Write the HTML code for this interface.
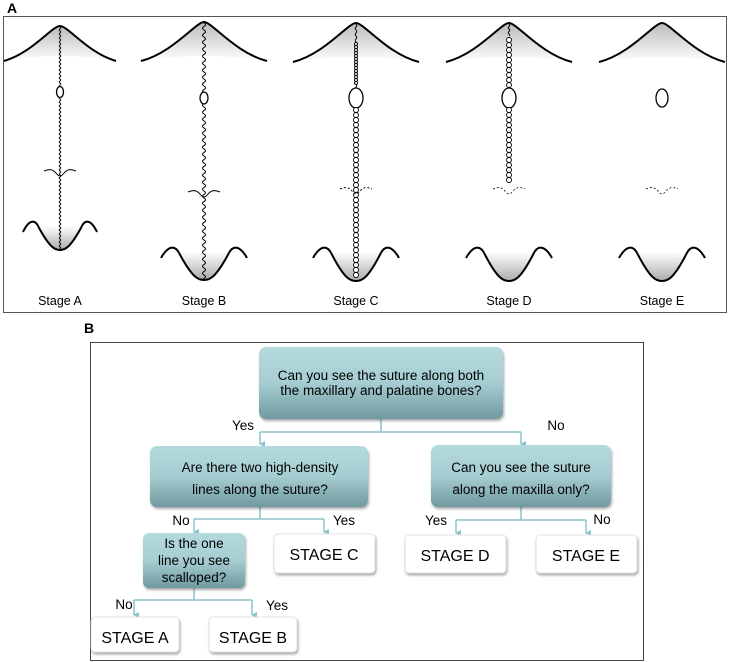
<!DOCTYPE html>
<html><head><meta charset="utf-8"><style>
body{margin:0;background:#fff;width:731px;height:662px;overflow:hidden;font-family:"Liberation Sans",sans-serif}
svg{position:absolute;left:0;top:0}
text{font-family:"Liberation Sans",sans-serif}
</style></head><body>
<svg id="s" width="731" height="662" viewBox="0 0 731 662">
<defs>
<linearGradient id="gt" x1="0" y1="0" x2="0" y2="1"><stop offset="0" stop-color="#bbb"/><stop offset="1" stop-color="#fff"/></linearGradient>
<linearGradient id="gb" x1="0" y1="1" x2="0" y2="0"><stop offset="0" stop-color="#aaa"/><stop offset="1" stop-color="#fff"/></linearGradient>
<linearGradient id="bx" x1="0" y1="0" x2="0" y2="1"><stop offset="0" stop-color="#b4dade"/><stop offset="0.5" stop-color="#a6cdd1"/><stop offset="1" stop-color="#6f9aa0"/></linearGradient>
<filter id="sh" x="-10%" y="-10%" width="120%" height="130%"><feDropShadow dx="1" dy="2" stdDeviation="1.2" flood-color="#000" flood-opacity="0.35"/></filter>
<marker id="ar" markerWidth="6" markerHeight="6" refX="3" refY="5" orient="auto-start-reverse" markerUnits="userSpaceOnUse"><path d="M0,0 L6,0 L3,6z" fill="#8cc4cc"/></marker>
</defs>
<text x="7" y="13" font-size="14" font-weight="bold">A</text>
<rect x="3.5" y="16.5" width="723" height="296" fill="none" stroke="#555" stroke-width="1"/>
<g id="A"></g>
<g font-size="12.5" text-anchor="middle" fill="#000">
<text x="60" y="305">Stage A</text><text x="204" y="305">Stage B</text><text x="356" y="305">Stage C</text><text x="509" y="305">Stage D</text><text x="662" y="305">Stage E</text>
</g>
<text x="84" y="333" font-size="14" font-weight="bold">B</text>
<rect x="90.5" y="342.5" width="553" height="318" fill="none" stroke="#444" stroke-width="1"/>
<g stroke="#8cc4cc" stroke-width="1.5" fill="none">
<path d="M381,419 V432"/><path d="M260,432 H521"/>
<path d="M260,432 V444" marker-end="url(#ar)"/><path d="M521,432 V444" marker-end="url(#ar)"/>
<path d="M260,507 V519 M194,519 H324 M521,507 V520 M456,520 H586"/>
<path d="M194,519 V532" marker-end="url(#ar)"/><path d="M324,519 V532" marker-end="url(#ar)"/>
<path d="M456,520 V533" marker-end="url(#ar)"/><path d="M586,520 V533" marker-end="url(#ar)"/>
<path d="M194,588 V600 M134,600 H252"/>
<path d="M134,600 V615" marker-end="url(#ar)"/><path d="M252,600 V615" marker-end="url(#ar)"/>
</g>
<g filter="url(#sh)">
<rect x="259" y="347" width="244" height="72" rx="7" fill="url(#bx)"/>
<rect x="150" y="446" width="218" height="61" rx="7" fill="url(#bx)"/>
<rect x="431" y="445" width="180" height="62" rx="7" fill="url(#bx)"/>
<rect x="143" y="533" width="102" height="55" rx="6" fill="url(#bx)"/>
<g fill="#fff" stroke="#ddd" stroke-width="0.8">
<rect x="274" y="534" width="101" height="39" rx="4"/>
<rect x="405" y="535" width="101" height="38" rx="4"/>
<rect x="536" y="535" width="101" height="38" rx="4"/>
<rect x="91" y="617" width="88" height="35" rx="4"/>
<rect x="209" y="617" width="88" height="35" rx="4"/>
</g>
</g>
<g font-size="13.5" text-anchor="middle" fill="#000">
<text x="381" y="380">Can you see the suture along both</text>
<text x="381" y="395">the maxillary and palatine bones?</text>
<text x="260" y="472">Are there two high-density</text>
<text x="260" y="494">lines along the suture?</text>
<text x="521" y="472">Can you see the suture</text>
<text x="521" y="494">along the maxilla only?</text>
<text x="194" y="548">Is the one</text>
<text x="194" y="565">line you see</text>
<text x="194" y="582">scalloped?</text>
<text x="243" y="430">Yes</text>
<text x="556" y="430">No</text>
<text x="181" y="525">No</text>
<text x="344" y="525">Yes</text>
<text x="436" y="525">Yes</text>
<text x="602" y="524">No</text>
<text x="124" y="609">No</text>
<text x="277" y="610">Yes</text>
</g>
<g font-size="16" text-anchor="middle" fill="#000">
<text x="324" y="560">STAGE C</text>
<text x="455" y="561">STAGE D</text>
<text x="586" y="561">STAGE E</text>
<text x="135" y="643">STAGE A</text>
<text x="253" y="643">STAGE B</text>
</g>
</svg>
<script>
var g=document.getElementById('A'),h='';
function arch(c,py,ey,w){var x0=c-w,x1=c+w;
 var d='M'+x0+','+ey+' C'+(c-w*0.5)+','+(ey-8)+' '+(c-8)+','+py+' '+c+','+py+' C'+(c+8)+','+py+' '+(c+w*0.5)+','+(ey-8)+' '+x1+','+ey;
 h+='<path d="'+d+' Q'+c+','+(ey-10)+' '+x0+','+ey+'Z" fill="url(#gt)"/>';
 h+='<path d="'+d+'" fill="none" stroke="#000" stroke-width="2"/>';}
function bwave(c,py,by,w){var x0=c-w,x1=c+w,q=w/3;
 var d='M'+x0+','+(py+10)+' C'+(x0+q*0.5)+','+(py-3)+' '+(x0+q)+','+(py-3)+' '+(x0+q*1.3)+','+(py+6)+' C'+(c-q*0.8)+','+(by-2)+' '+(c-q*0.4)+','+by+' '+c+','+by+' C'+(c+q*0.4)+','+by+' '+(c+q*0.8)+','+(by-2)+' '+(x1-q*1.3)+','+(py+6)+' C'+(x1-q)+','+(py-3)+' '+(x1-q*0.5)+','+(py-3)+' '+x1+','+(py+10);
 h+='<path d="M'+(x0+q*1.2)+','+(py+4)+' C'+(c-q*0.8)+','+(by-2)+' '+(c-q*0.4)+','+by+' '+c+','+by+' C'+(c+q*0.4)+','+by+' '+(c+q*0.8)+','+(by-2)+' '+(x1-q*1.2)+','+(py+4)+'Z" fill="url(#gb)"/>';
 h+='<path d="'+d+'" fill="none" stroke="#000" stroke-width="2"/>';}
function wavy(c,y0,y1,a,p){var d='M'+c+','+y0;for(var y=y0;y<=y1;y+=1){d+=' L'+(c+a*Math.sin((y-y0)/p*2*Math.PI)).toFixed(2)+','+y;}h+='<path d="'+d+'" fill="none" stroke="#000" stroke-width="1"/>';}
function chain(c,y0,y1,r){for(var y=y0;y<=y1;y+=r*2){h+='<circle cx="'+c+'" cy="'+y+'" r="'+r+'" fill="#fff" stroke="#000" stroke-width="0.9"/>';}}
function oval(c,y,rx,ry){h+='<ellipse cx="'+c+'" cy="'+y+'" rx="'+rx+'" ry="'+ry+'" fill="#fff" stroke="#000" stroke-width="1.3"/>';}
function cross(c,y,w,dash,sw){h+='<path d="M'+(c-w)+','+(y-1)+' C'+(c-w*0.6)+','+(y-4)+' '+(c-w*0.4)+','+(y-2)+' '+(c-w*0.2)+','+(y+2)+' Q'+c+','+(y+6)+' '+(c+w*0.2)+','+(y+2)+' C'+(c+w*0.4)+','+(y-2)+' '+(c+w*0.6)+','+(y-4)+' '+(c+w)+','+(y-1)+'" fill="none" stroke="#000" stroke-width="'+(sw||1)+'" '+(dash?'stroke-dasharray="2,2"':'')+'/>';}
arch(60,26,61,56);bwave(60,222,250,37);
wavy(60,27,249,0.8,4);cross(60,172,16);oval(60,92,3.5,5.5);
arch(204,22,61,63);bwave(204,248,280,43);
wavy(204,23,279,1.6,7);cross(204,193,16);oval(204,98,4,6);
arch(356,23,62,63);bwave(356,248,281,43);
wavy(356,24,88,0.8,6);chain(356,44,84,1.5);oval(356,98,7,10);chain(356,110,278,2.5);cross(356,190,16,true);
arch(509,23,62,63);bwave(509,248,281,43);
wavy(509,24,36,0.8,5);chain(509,40,86,2.5);oval(509,98,7,10);chain(509,110,184,2.5);cross(509,190,16,true,0.8);
arch(662,23,62,63);bwave(662,248,281,43);
oval(662,98,6,9);cross(662,190,16,true,0.8);
g.innerHTML=h;
</script>
</body></html>
